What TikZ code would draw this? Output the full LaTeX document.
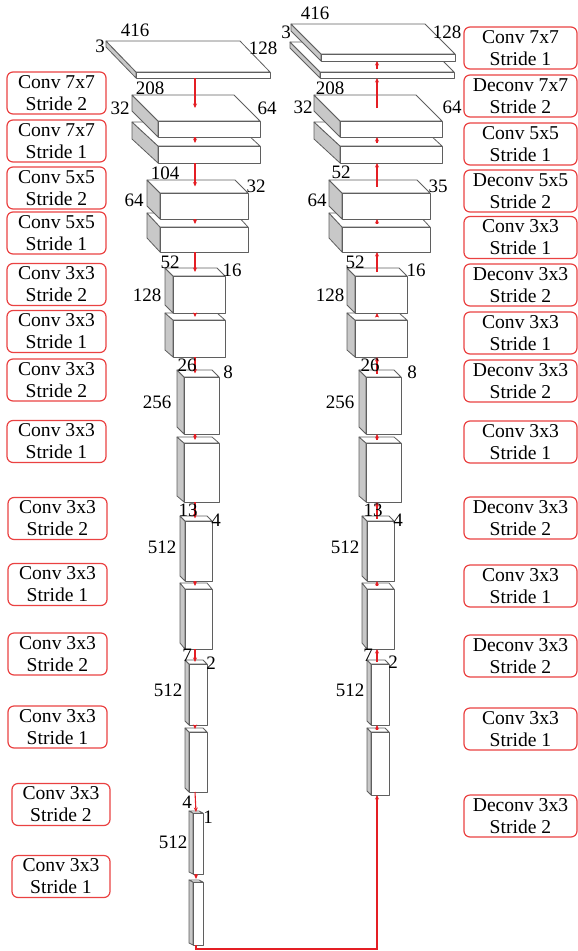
\documentclass[tikz,border=0pt]{standalone}
\usepackage{fontspec}
\setmainfont{Liberation Serif}
\usetikzlibrary{arrows.meta,calc}
\definecolor{arrred}{RGB}{228,30,36}
\definecolor{lblred}{RGB}{234,66,66}
\definecolor{edgegray}{RGB}{95,95,95}
\definecolor{sidegray}{RGB}{200,200,200}
\tikzset{
 boxline/.style={draw=edgegray, line width=0.8pt, line join=round},
 arr/.style={draw=arrred, line width=1.1pt, -{Stealth[length=4.5pt,width=4pt]}},
 lbl/.style={draw=lblred, line width=1.2pt, rounded corners=6pt, align=center, inner sep=0pt, font=\fontsize{19.6}{22}\selectfont, minimum height=42pt},
 dim/.style={font=\fontsize{19}{22}\selectfont, inner sep=0pt},
}
\newcommand\cubebox[8]{%
 \filldraw[boxline, fill=sidegray] (#2,#4) -- (#2,#5) -- ({#2-#6},{#5-#7}) -- ({#2-#6},{#4-#7}) -- cycle;
 \filldraw[boxline, fill=white] (#2,#4) -- (#3,#4) -- ({#3-#6},{#4-#7}) -- ({#2-#6},{#4-#7}) -- cycle;
 \filldraw[boxline, fill=white] (#2,#4) rectangle (#3,#5);
 \coordinate (#1b) at (#8,#5);
 \coordinate (#1t) at (#8,{#4-#7/2});
 \coordinate (#1f) at (#8,{#4-3});
}
\begin{document}
\begin{tikzpicture}[x=1pt,y=-1pt]
\useasboundingbox (0,0) rectangle (578,951);
% ---------- left column (bottom-up so upper boxes overlap lower) ----------
\cubebox{B15}{193}{203}{882}{945}{4}{2}{196}
\cubebox{B14}{193}{203}{813}{874}{4}{2}{196}
\cubebox{B13}{189}{207}{732}{792}{4}{4}{195}
\cubebox{B12}{189}{207}{664}{725}{4}{4}{195}
\cubebox{B11}{185}{212}{589}{649}{5}{6}{195}
\cubebox{B10}{185}{212}{521}{581}{5}{5}{195}
\cubebox{B9}{184}{219}{443}{502}{7}{6}{195}
\cubebox{B8}{184}{219}{377}{434}{7}{7}{195}
\cubebox{B7}{173}{225}{320}{357}{8}{7}{195}
\cubebox{B6}{173}{225}{276}{313}{8}{8}{195}
\cubebox{B5}{160}{248}{227}{252}{13}{14}{195}
\cubebox{B4}{160}{248}{193}{219}{13}{13}{195}
\cubebox{B3}{158}{260}{146}{163}{26}{24}{195}
\cubebox{B2}{158}{260}{121}{137}{26}{26}{195}
\cubebox{B1}{136}{270}{72}{78}{30}{31}{195}
% ---------- right column ----------
\cubebox{R13}{371}{389}{732}{795}{4}{4}{377}
\cubebox{R12}{371}{389}{664}{725}{4}{4}{377}
\cubebox{R11}{367}{394}{589}{649}{5}{6}{377}
\cubebox{R10}{367}{394}{521}{581}{5}{5}{377}
\cubebox{R9}{366}{401}{443}{502}{7}{6}{377}
\cubebox{R8}{366}{401}{377}{434}{7}{7}{377}
\cubebox{R7}{355}{407}{320}{357}{8}{7}{377}
\cubebox{R6}{355}{407}{276}{313}{8}{8}{377}
\cubebox{R5}{342}{430}{227}{252}{13}{14}{377}
\cubebox{R4}{342}{430}{193}{219}{13}{13}{377}
\cubebox{R3}{340}{442}{146}{163}{26}{24}{377}
\cubebox{R2}{340}{442}{121}{137}{26}{26}{377}
\cubebox{S2}{320}{454}{72}{78}{30}{30}{377}
\cubebox{S1}{321}{455}{54}{61}{30}{30}{377}
% ---------- arrows ----------
\draw[arr] (B1b) -- (B2t);
\draw[arr] (B2b) -- (B3f);
\draw[arr] (B3b) -- (B4t);
\draw[arr] (B4b) -- (B5f);
\draw[arr] (B5b) -- (B6t);
\draw[arr] (B6b) -- (B7f);
\draw[arr] (B7b) -- (B8t);
\draw[arr] (B8b) -- (B9f);
\draw[arr] (B9b) -- (B10t);
\draw[arr] (B10b) -- (B11f);
\draw[arr] (B11b) -- (B12t);
\draw[arr] (B12b) -- (B13f);
\draw[arr] (B13b) -- (B14t);
\draw[arr] (B14b) -- (B15f);
\draw[arr] (B15b) -- ++(0,4) -| (R13b);
\draw[arr] (R13t) -- (R12b);
\draw[arr] (R12t) -- (R11b);
\draw[arr] (R11f) -- (R10b);
\draw[arr] (R10t) -- (R9b);
\draw[arr] (R9f) -- (R8b);
\draw[arr] (R8t) -- (R7b);
\draw[arr] (R7f) -- (R6b);
\draw[arr] (R6t) -- (R5b);
\draw[arr] (R5f) -- (R4b);
\draw[arr] (R4t) -- (R3b);
\draw[arr] (R3f) -- (R2b);
\draw[arr] (R2t) -- (S2b);
\draw[arr] (S2f) -- (S1b);
% ---------- dimension labels, left ----------
\node[dim] (dl1) at (135,30) {416};
\node[dim] (dl2) at (100,46) {3};
\node[dim] (dl3) at (263,48) {128};
\node[dim] (dl4) at (150,88) {208};
\node[dim] (dl5) at (120,108) {32};
\node[dim] (dl6) at (267,108) {64};
\node[dim] (dl7) at (165,173) {104};
\node[dim] (dl8) at (134,200) {64};
\node[dim] (dl9) at (256,186) {32};
\node[dim] (dl10) at (170,262) {52};
\node[dim] (dl11) at (147,295) {128};
\node[dim] (dl12) at (232,270) {16};
\node[dim] (dl13) at (187,365) {26};
\node[dim] (dl14) at (228,372) {8};
\node[dim] (dl15) at (157,402) {256};
\node[dim] (dl16) at (188,510) {13};
\node[dim] (dl17) at (216,520) {4};
\node[dim] (dl18) at (162,547) {512};
\node[dim] (dl19) at (187,655) {7};
\node[dim] (dl20) at (211,663) {2};
\node[dim] (dl21) at (168,690) {512};
\node[dim] (dl22) at (187,802) {4};
\node[dim] (dl23) at (208,817) {1};
\node[dim] (dl24) at (173,842) {512};
% ---------- dimension labels, right ----------
\node[dim] (dr1) at (315,13) {416};
\node[dim] (dr2) at (286,32) {3};
\node[dim] (dr4) at (447,32) {128};
\node[dim] (dr5) at (330,88) {208};
\node[dim] (dr6) at (303,107) {32};
\node[dim] (dr7) at (452,107) {64};
\node[dim] (dr8) at (341,172) {52};
\node[dim] (dr9) at (317,200) {64};
\node[dim] (dr10) at (438,186) {35};
\node[dim] (dr11) at (355,262) {52};
\node[dim] (dr12) at (330,295) {128};
\node[dim] (dr13) at (416,270) {16};
\node[dim] (dr14) at (370,365) {26};
\node[dim] (dr15) at (412,372) {8};
\node[dim] (dr16) at (340,402) {256};
\node[dim] (dr17) at (373,510) {13};
\node[dim] (dr18) at (398,520) {4};
\node[dim] (dr19) at (345,547) {512};
\node[dim] (dr20) at (368,655) {7};
\node[dim] (dr21) at (393,662) {2};
\node[dim] (dr22) at (350,690) {512};
% ---------- operation labels, left ----------
\node[lbl, minimum width=99pt] (L1) at (56.5,93) {Conv 7x7\\Stride 2};
\node[lbl, minimum width=99pt] (L2) at (56.5,141) {Conv 7x7\\Stride 1};
\node[lbl, minimum width=99pt] (L3) at (56.5,188) {Conv 5x5\\Stride 2};
\node[lbl, minimum width=99pt] (L4) at (56.5,233) {Conv 5x5\\Stride 1};
\node[lbl, minimum width=99pt] (L5) at (56.5,284.5) {Conv 3x3\\Stride 2};
\node[lbl, minimum width=99pt] (L6) at (56.5,331.5) {Conv 3x3\\Stride 1};
\node[lbl, minimum width=99pt] (L7) at (56.5,380) {Conv 3x3\\Stride 2};
\node[lbl, minimum width=99pt] (L8) at (56.5,441.5) {Conv 3x3\\Stride 1};
\node[lbl, minimum width=99pt] (L9) at (57.5,518.5) {Conv 3x3\\Stride 2};
\node[lbl, minimum width=99pt] (L10) at (57.5,584.5) {Conv 3x3\\Stride 1};
\node[lbl, minimum width=99pt] (L11) at (57.5,654) {Conv 3x3\\Stride 2};
\node[lbl, minimum width=99pt] (L12) at (57.5,727) {Conv 3x3\\Stride 1};
\node[lbl, minimum width=98pt] (L13) at (61,804.5) {Conv 3x3\\Stride 2};
\node[lbl, minimum width=98pt] (L14) at (61,876.5) {Conv 3x3\\Stride 1};
% ---------- operation labels, right ----------
\node[lbl, minimum width=113pt] (Q1) at (520.5,48) {Conv 7x7\\Stride 1};
\node[lbl, minimum width=113pt] (Q2) at (520.5,96) {Deconv 7x7\\Stride 2};
\node[lbl, minimum width=113pt] (Q3) at (520.5,144) {Conv 5x5\\Stride 1};
\node[lbl, minimum width=113pt] (Q4) at (520.5,191) {Deconv 5x5\\Stride 2};
\node[lbl, minimum width=113pt] (Q5) at (520.5,237.5) {Conv 3x3\\Stride 1};
\node[lbl, minimum width=113pt] (Q6) at (520.5,285) {Deconv 3x3\\Stride 2};
\node[lbl, minimum width=113pt] (Q7) at (520.5,333) {Conv 3x3\\Stride 1};
\node[lbl, minimum width=113pt] (Q8) at (520.5,381) {Deconv 3x3\\Stride 2};
\node[lbl, minimum width=113pt] (Q9) at (520.5,442) {Conv 3x3\\Stride 1};
\node[lbl, minimum width=113pt] (Q10) at (520.5,518) {Deconv 3x3\\Stride 2};
\node[lbl, minimum width=113pt] (Q11) at (520.5,586) {Conv 3x3\\Stride 1};
\node[lbl, minimum width=113pt] (Q12) at (520.5,656) {Deconv 3x3\\Stride 2};
\node[lbl, minimum width=113pt] (Q13) at (520.5,729) {Conv 3x3\\Stride 1};
\node[lbl, minimum width=113pt] (Q14) at (520.5,816) {Deconv 3x3\\Stride 2};
\end{tikzpicture}
\end{document}
